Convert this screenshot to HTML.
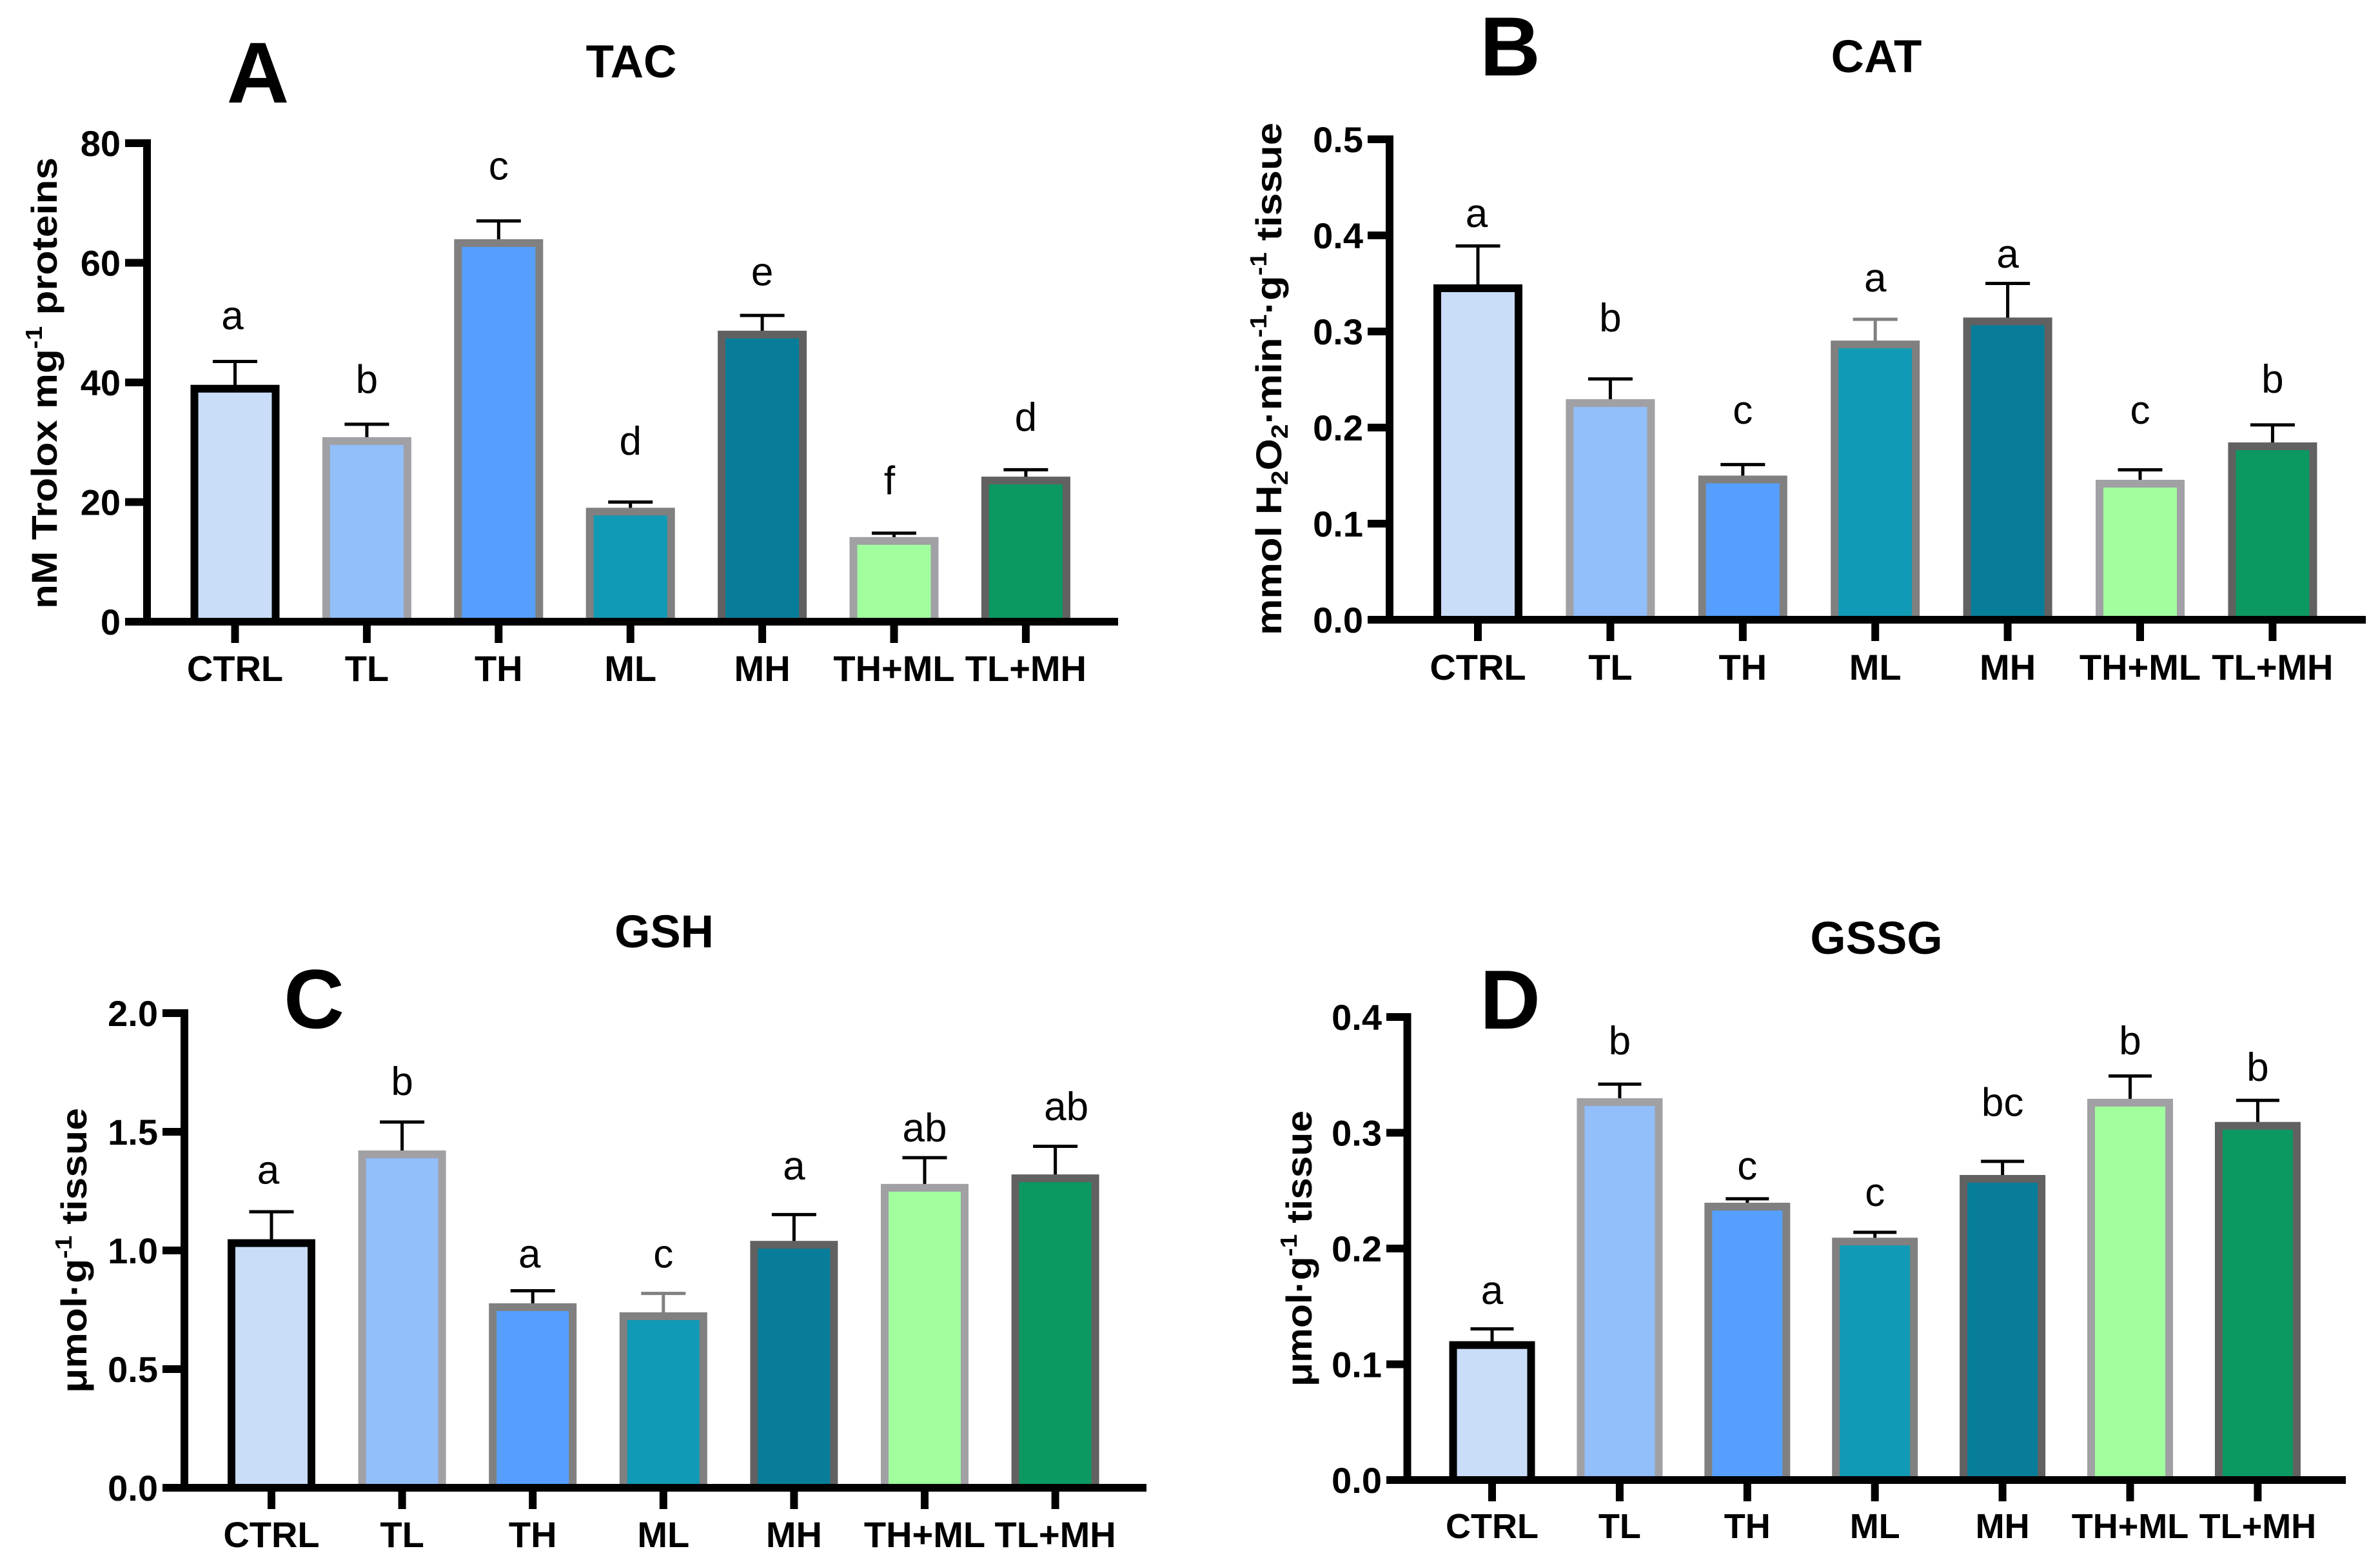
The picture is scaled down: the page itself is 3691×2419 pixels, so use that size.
<!DOCTYPE html>
<html lang="en">
<head>
<meta charset="utf-8">
<title>TAC, CAT, GSH and GSSG bar charts</title>
<style>
  html, body { margin: 0; padding: 0; background: #fff; }
  svg { display: block; }
  text { font-family: "Liberation Sans", Arial, sans-serif; fill: #000; }
  .bold { font-weight: 700; }
</style>
</head>
<body>
<svg id="figure" xmlns="http://www.w3.org/2000/svg" width="3691" height="2419" viewBox="0 0 3691 2419">
  <rect x="0" y="0" width="3691" height="2419" fill="#fff"/>

  <g id="panel-a">
    <text class="bold" x="400" y="159" font-size="134" text-anchor="middle">A</text>
    <text class="bold" x="979" y="120" font-size="71" text-anchor="middle">TAC</text>
    <text class="bold" transform="translate(88 944) rotate(-90)" font-size="56" textLength="700" lengthAdjust="spacingAndGlyphs">nM Trolox mg<tspan font-size="36" dy="-23">-1</tspan><tspan dy="23"> proteins</tspan></text>
  </g>

  <g id="panel-b">
    <text class="bold" x="2342" y="117" font-size="130" text-anchor="middle">B</text>
    <text class="bold" x="2910" y="112" font-size="71" text-anchor="middle">CAT</text>
    <text class="bold" transform="translate(1987 985) rotate(-90)" font-size="56" textLength="795" lengthAdjust="spacingAndGlyphs">mmol H<tspan font-size="36" dy="10">2</tspan><tspan dy="-10">O</tspan><tspan font-size="36" dy="10">2</tspan><tspan dy="-10">·min</tspan><tspan font-size="36" dy="-23">-1</tspan><tspan dy="23">·g</tspan><tspan font-size="36" dy="-23">-1</tspan><tspan dy="23"> tissue</tspan></text>
  </g>

  <g id="panel-c">
    <text class="bold" x="487" y="1594" font-size="130" text-anchor="middle">C</text>
    <text class="bold" x="1030" y="1469" font-size="71" text-anchor="middle">GSH</text>
    <text class="bold" transform="translate(134 2160) rotate(-90)" font-size="56" textLength="442" lengthAdjust="spacingAndGlyphs">μmol·g<tspan font-size="36" dy="-23">-1</tspan><tspan dy="23"> tissue</tspan></text>
  </g>

  <g id="panel-d">
    <text class="bold" x="2342" y="1595" font-size="130" text-anchor="middle">D</text>
    <text class="bold" x="2910" y="1479" font-size="71" text-anchor="middle">GSSG</text>
    <text class="bold" transform="translate(2034 2150) rotate(-90)" font-size="56" textLength="428" lengthAdjust="spacingAndGlyphs">μmol·g<tspan font-size="36" dy="-23">-1</tspan><tspan dy="23"> tissue</tspan></text>
  </g>
</svg>

<script>
// Shared categories
var categories = ['CTRL', 'TL', 'TH', 'ML', 'MH', 'TH+ML', 'TL+MH'];
var fillColors = ['#c9ddf8', '#92bef9', '#569ffe', '#119ab5', '#077d9a', '#a1ff9e', '#0b9961'];
var borderColors = ['#000000', '#a0a0a5', '#808080', '#808080', '#616161', '#a0a0a5', '#616161'];

// TAC
var tacValues = [38.95, 30.2, 63.3, 18.4, 48.0, 13.5, 23.6];
var tacUpper = [43.5, 33.0, 67.0, 20.0, 51.2, 14.8, 25.4];
var tacLetters = ['a', 'b', 'c', 'd', 'e', 'f', 'd'];
var tacLetterLevels = [48.9, 38.2, 73.9, 27.9, 56.2, 21.3, 31.9];
var tacTicks = ['0', '20', '40', '60', '80'];

// CAT
var catValues = [0.345, 0.2255, 0.146, 0.2865, 0.3105, 0.1416, 0.1805];
var catUpper = [0.389, 0.2506, 0.1615, 0.3127, 0.35, 0.156, 0.2028];
var catLetters = ['a', 'b', 'c', 'a', 'a', 'c', 'b'];
var catLetterLevels = [0.4087, 0.3, 0.204, 0.3416, 0.3664, 0.204, 0.2362];
var catTicks = ['0.0', '0.1', '0.2', '0.3', '0.4', '0.5'];

// GSH
var gshValues = [1.031, 1.405, 0.761, 0.723, 1.024, 1.264, 1.304];
var gshUpper = [1.163, 1.541, 0.83, 0.819, 1.151, 1.391, 1.439];
var gshLetters = ['a', 'b', 'a', 'c', 'a', 'ab', 'ab'];
var gshLetterLevels = [1.281, 1.655, 0.928, 0.928, 1.299, 1.459, 1.549];
var gshTicks = ['0.0', '0.5', '1.0', '1.5', '2.0'];

// GSSG
var gssgValues = [0.1166, 0.3265, 0.2362, 0.206, 0.2602, 0.326, 0.306];
var gssgUpper = [0.1306, 0.342, 0.243, 0.214, 0.2753, 0.349, 0.328];
var gssgLetters = ['a', 'b', 'c', 'c', 'bc', 'b', 'b'];
var gssgLetterLevels = [0.1521, 0.3677, 0.2596, 0.2368, 0.3144, 0.3677, 0.3448];
var gssgTicks = ['0.0', '0.1', '0.2', '0.3', '0.4'];

var SVG_NS = 'http://www.w3.org/2000/svg';

function makeShape(parent, tag, attrs) {
  var el = document.createElementNS(SVG_NS, tag);
  for (var key in attrs) { el.setAttribute(key, attrs[key]); }
  parent.appendChild(el);
  return el;
}

function drawPanel(p) {
  var root = document.getElementById(p.id);
  var tickVals = p.ticks.map(parseFloat);
  var yMax = tickVals[tickVals.length - 1];
  var yScale = function (v) { return p.yBase - (v / yMax) * (p.yBase - p.yTop); };
  var xScale = function (i) { return p.xFirst + i * p.xStep; };
  var lw = 12;

  categories.forEach(function (cat, i) {
    var cx = xScale(i);
    var errColor = p.grayErrorIndex === i ? '#808080' : '#000000';
    var top = yScale(p.values[i]);
    var up = yScale(p.upper[i]);

    var stem = makeShape(root, 'line', { x1: cx, x2: cx, y1: top, y2: up, stroke: errColor, 'stroke-width': 5 });
    
    

    var cap = makeShape(root, 'line', { x1: cx - p.capW / 2, x2: cx + p.capW / 2, y1: up, y2: up, stroke: errColor, 'stroke-width': 5 });
    
    

    var bar = makeShape(root, 'rect', {
      x: cx - (p.barW - lw) / 2,
      y: top,
      width: p.barW - lw,
      height: p.yBase - top,
      fill: fillColors[i],
      stroke: borderColors[i],
      'stroke-width': lw
    });
    
    

    var tick = makeShape(root, 'line', { x1: cx, x2: cx, y1: p.yBase, y2: p.yBase + 33, stroke: '#000', 'stroke-width': lw });
    
    

    var label = makeShape(root, 'text', { x: cx, y: p.xLabelY, 'font-size': p.xFont, 'font-weight': 700, 'text-anchor': 'middle' });
    label.textContent = cat;
    
    

    var nudge = p.letterNudge && p.letterNudge[i] ? p.letterNudge[i] : 0;
    var sig = makeShape(root, 'text', { x: cx + nudge, y: yScale(p.letterLevels[i]), 'font-size': 62, 'text-anchor': 'middle' });
    sig.textContent = p.letters[i];
    
    
  });

  var yAxis = makeShape(root, 'line', { x1: p.xAxis, x2: p.xAxis, y1: p.yTop - lw / 2, y2: p.yBase, stroke: '#000', 'stroke-width': lw });
  
  

  var xAxis = makeShape(root, 'line', { x1: p.tickLeft, x2: p.xEnd, y1: p.yBase, y2: p.yBase, stroke: '#000', 'stroke-width': lw });
  
  

  p.ticks.forEach(function (t, i) {
    var y = yScale(tickVals[i]);
    var tick = makeShape(root, 'line', { x1: p.tickLeft, x2: p.xAxis, y1: y, y2: y, stroke: '#000', 'stroke-width': lw });
    
    

    var label = makeShape(root, 'text', { x: p.tickLeft - 7, y: y + 20, 'font-size': 56, 'font-weight': 700, 'text-anchor': 'end' });
    label.textContent = t;
    
    
  });
}

drawPanel({ id: 'panel-a', key: 'tac', values: tacValues, upper: tacUpper, letters: tacLetters, letterLevels: tacLetterLevels, ticks: tacTicks,
  yTop: 222, yBase: 964, xAxis: 228, tickLeft: 194, xEnd: 1734, xFirst: 364.5, xStep: 204.4, barW: 138, capW: 69, xLabelY: 1056, xFont: 56, letterNudge: { 0: -4, 5: -7 } });
drawPanel({ id: 'panel-b', key: 'cat', values: catValues, upper: catUpper, letters: catLetters, letterLevels: catLetterLevels, ticks: catTicks,
  yTop: 216, yBase: 961, xAxis: 2155, tickLeft: 2121, xEnd: 3669, xFirst: 2292, xStep: 205.4, barW: 138, capW: 69, xLabelY: 1054, xFont: 56, grayErrorIndex: 3, letterNudge: { 0: -2 } });
drawPanel({ id: 'panel-c', key: 'gsh', values: gshValues, upper: gshUpper, letters: gshLetters, letterLevels: gshLetterLevels, ticks: gshTicks,
  yTop: 1571, yBase: 2307, xAxis: 286, tickLeft: 252, xEnd: 1778, xFirst: 421, xStep: 202.6, barW: 136, capW: 69, xLabelY: 2399, xFont: 56, grayErrorIndex: 3, letterNudge: { 0: -5, 2: -5, 6: 17 } });
drawPanel({ id: 'panel-d', key: 'gssg', values: gssgValues, upper: gssgUpper, letters: gssgLetters, letterLevels: gssgLetterLevels, ticks: gssgTicks,
  yTop: 1577, yBase: 2295, xAxis: 2182.5, tickLeft: 2150, xEnd: 3638, xFirst: 2314, xStep: 197.9, barW: 133, capW: 67, xLabelY: 2385, xFont: 54 });
</script>
</body>
</html>
